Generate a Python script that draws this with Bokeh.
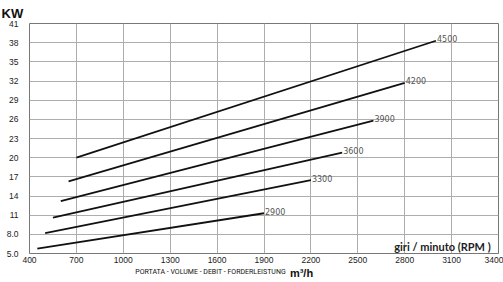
from bokeh.plotting import figure
from bokeh.models import Range1d, FixedTicker, Label, ColumnDataSource, LinearAxis, Title
from bokeh.core.properties import value
from bokeh.embed import file_html
from bokeh.resources import INLINE

rpm_labels = ["4500", "4200", "3900", "3600", "3300", "2900"]
flow_start = [700, 650, 600, 550, 500, 450]
kw_start = [20.0, 16.3, 13.2, 10.6, 8.2, 5.75]
flow_end = [3000, 2800, 2600, 2400, 2200, 1900]
kw_end = [38.3, 31.7, 25.8, 20.8, 16.5, 11.3]

x_ticks = [400, 700, 1000, 1300, 1600, 1900, 2200, 2500, 2800, 3100, 3400]
y_ticks = [5, 8, 11, 14, 17, 20, 23, 26, 29, 32, 35, 38, 41]
y_tick_labels = ["5.0", "8.0", "11", "14", "17", "20", "23", "26", "29", "32", "35", "38", "41"]

y_title = "KW"
x_title = "PORTATA - VOLUME - DEBIT - FORDERLEISTUNG"
x_unit = "m\u00b3/h"
rpm_title = "giri / minuto (RPM )"

p = figure(width=503, height=282, output_backend="svg", toolbar_location=None,
           x_range=Range1d(400, 3400), y_range=Range1d(5, 41),
           min_border_left=29, min_border_right=5, min_border_top=21, min_border_bottom=29)
p.background_fill_color = "white"
p.border_fill_color = "white"
p.outline_line_color = "#777777"
p.outline_line_width = 1

for ax in (p.xaxis[0], p.yaxis[0]):
    ax.axis_line_color = None
    ax.major_tick_line_color = None
    ax.minor_tick_line_color = None
    ax.major_tick_out = 0
    ax.major_tick_in = 0
    ax.minor_tick_out = 0
    ax.minor_tick_in = 0
    ax.major_label_text_font = "Liberation Sans"
    ax.major_label_text_font_size = "8.5px"
    ax.major_label_text_color = "#222222"

p.xaxis[0].ticker = FixedTicker(ticks=x_ticks)
p.yaxis[0].ticker = FixedTicker(ticks=y_ticks)
p.yaxis[0].major_label_overrides = {t: l for t, l in zip(y_ticks, y_tick_labels)}
p.xaxis[0].major_label_standoff = 3
p.yaxis[0].major_label_standoff = 11

p.xgrid.grid_line_color = "#adadad"
p.ygrid.grid_line_color = "#adadad"
p.xgrid.grid_line_width = 1
p.ygrid.grid_line_width = 1

src = ColumnDataSource(dict(x0=flow_start, y0=kw_start, x1=flow_end, y1=kw_end, lab=rpm_labels))
p.segment(x0="x0", y0="y0", x1="x1", y1="y1", source=src, line_color="#111111", line_width=1.8)
p.text(x="x1", y="y1", text="lab", source=src, text_font=value("DejaVu Sans"),
       text_font_size="8px", text_color="#555555", text_align="left",
       text_baseline="middle", x_offset=1, y_offset=-2)

p.add_layout(Label(x=3350, y=6.1, text=rpm_title, text_font="Lato",
                   text_font_style="bold", text_font_size="11px", text_color="#222222",
                   text_align="right", text_baseline="alphabetic"))

# "KW" unit title above the frame, at the left
p.add_layout(Title(text=y_title, align="left", offset=-28, standoff=6,
                   text_font="Liberation Sans", text_font_style="bold",
                   text_font_size="13px", text_color="#111111"), "above")

# axis title row (tick-label based so the two parts can sit side by side)
t_pos = 1558
u_pos = 2140
ax_unit = LinearAxis(ticker=FixedTicker(ticks=[u_pos]),
                     major_label_overrides={u_pos: x_unit},
                     axis_line_color=None, major_tick_line_color=None, minor_tick_line_color=None,
                     major_tick_out=0, major_tick_in=0, minor_tick_out=0, minor_tick_in=0,
                     major_label_standoff=1, major_label_text_font="Liberation Sans",
                     major_label_text_font_style="bold",
                     major_label_text_font_size="11px", major_label_text_color="#111111")
ax_title = LinearAxis(ticker=FixedTicker(ticks=[t_pos]),
                      major_label_overrides={t_pos: x_title},
                      axis_line_color=None, major_tick_line_color=None, minor_tick_line_color=None,
                      major_tick_out=0, major_tick_in=0, minor_tick_out=0, minor_tick_in=0,
                      major_label_standoff=-14, major_label_text_font="Roboto",
                      major_label_text_font_size="7px", major_label_text_color="#111111")
p.add_layout(ax_unit, "below")
p.add_layout(ax_title, "below")

open("out.html", "w").write(file_html(p, INLINE))
